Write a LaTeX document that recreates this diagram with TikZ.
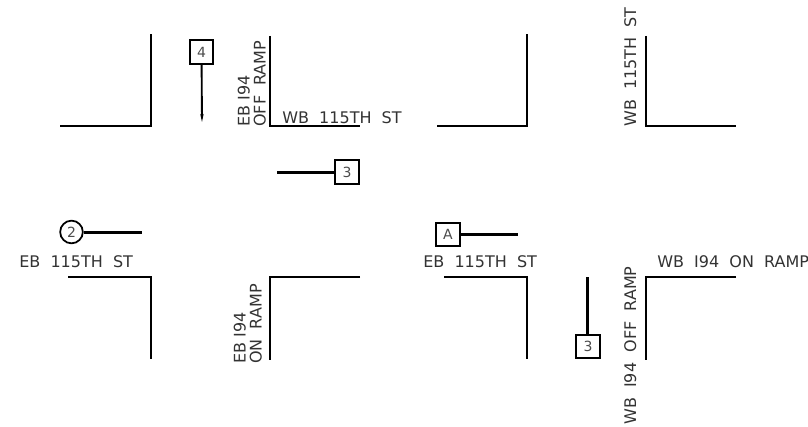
\documentclass[tikz,border=0pt]{standalone}
\usepackage{fontspec}
\setmainfont{DejaVu Sans}
\usetikzlibrary{positioning,arrows.meta}
\tikzset{
  curbline/.style={line width=1.5pt, line join=miter},
  signalarm/.style={line width=2.4pt},
  thinarm/.style={-{Stealth[length=6pt,width=2.5pt]}, line width=1.4pt},
  signalbox/.style={draw, line width=1.4pt, minimum size=17.5pt, inner sep=0pt, font=\fontsize{10.5}{10.5}\selectfont, text=black!70},
  signalcircle/.style={draw, circle, line width=1.3pt, minimum size=17pt, inner sep=0pt, font=\fontsize{10.5}{10.5}\selectfont, text=black!70},
  roadlabel/.style={font=\fontsize{12}{12}\selectfont, text=black!80, inner sep=0pt, align=left}
}

\begin{document}
\begin{tikzpicture}[x=0.75pt, y=-0.75pt]
  \useasboundingbox (0,0) rectangle (808,427);
  % curbs
  \draw[curbline] (60,126) -- (151,126) -- (151,34);
  \draw[curbline] (270,36) -- (270,126) -- (360,126);
  \draw[curbline] (437,126) -- (527,126) -- (527,34);
  \draw[curbline] (646,36) -- (646,126) -- (736,126);
  \draw[curbline] (68,277) -- (151,277) -- (151,359);
  \draw[curbline] (360,277) -- (270,277) -- (270,360);
  \draw[curbline] (444,277) -- (527,277) -- (527,359);
  \draw[curbline] (736,277) -- (646,277) -- (646,360);
  % signals
  \node[signalbox] (four) at (201.5,52) {4};
  \coordinate (fourend) at (202,122);
  \draw[thinarm] (four) -- (fourend);
  \node[signalbox] (threetop) at (347,172) {3};
  \coordinate (threetopend) at (277,172.4);
  \draw[signalarm] (threetop.west |- threetopend) -- (threetopend);
  \node[signalcircle] (two) at (71.5,232) {2};
  \coordinate (twoend) at (142,232.4);
  \draw[signalarm] (two.east |- twoend) -- (twoend);
  \node[signalbox] (aa) at (448,234.5) {A};
  \coordinate (aaend) at (518,234.5);
  \draw[signalarm] (aa) -- (aaend);
  \node[signalbox] (threelow) at (588,346.5) {3};
  \coordinate (threelowend) at (587.5,277);
  \draw[signalarm] (threelow.north -| threelowend) -- (threelowend);
  % labels
  \node[roadlabel, anchor=south west] (wb115a) at (282,124) {WB\ \ 115TH\ \ ST};
  \node[roadlabel, anchor=south west, rotate=90] (eboff) at (266,127) {EB I94\\OFF\ \ RAMP};
  \node[roadlabel, anchor=south west, rotate=90] (wb115b) at (636.5,127) {WB\ \ 115TH\ \ ST};
  \node[roadlabel, anchor=south west] (eb115a) at (19,267.5) {EB\ \ 115TH\ \ ST};
  \node[roadlabel, anchor=south west, rotate=90] (ebon) at (262,364) {EB I94\\ON\ \ RAMP};
  \node[roadlabel, anchor=south west] (eb115b) at (423,267.5) {EB\ \ 115TH\ \ ST};
  \node[roadlabel, anchor=south west] (wbon) at (657,267.5) {WB\ \ I94\ \ ON\ \ RAMP};
  \node[roadlabel, anchor=south west, rotate=90] (wboff) at (636.5,425) {WB\ \ I94\ \ OFF\ \ RAMP};
\end{tikzpicture}
\end{document}
